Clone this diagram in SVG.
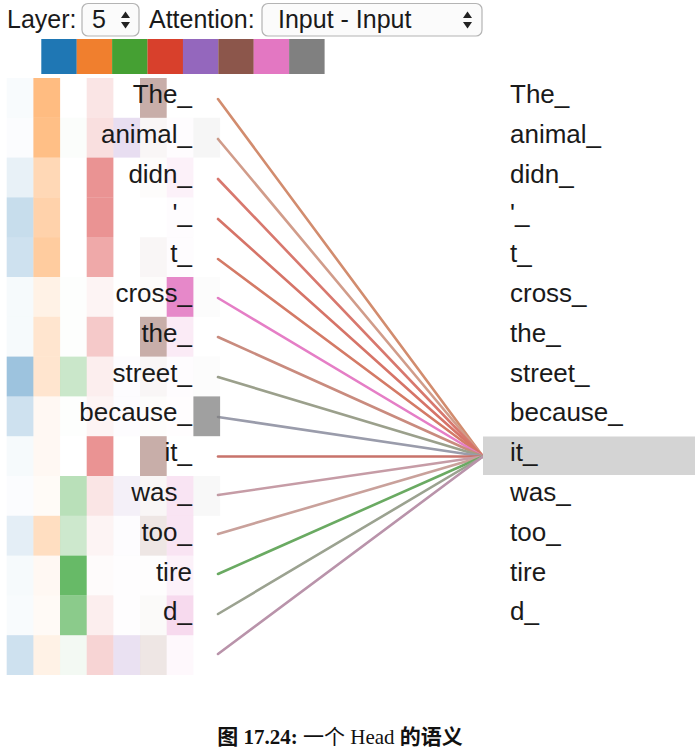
<svg xmlns="http://www.w3.org/2000/svg" width="699" height="750" viewBox="0 0 699 750">
<defs>
<style>
.t{font-family:"Liberation Sans",Arial,sans-serif;font-size:26px;fill:#1a1a1a}
.ui{font-family:"Liberation Sans",Arial,sans-serif;font-size:25px;fill:#1a1a1a}
.sel{fill:#fbfbfb;stroke:#b4b4b4;stroke-width:1.2}
.c0{fill:#1f77b4}.c1{fill:#ff7f0e}.c2{fill:#2ca02c}.c3{fill:#d62728}
.c4{fill:#9467bd}.c5{fill:#8c564b}.c6{fill:#e377c2}.c7{fill:#7f7f7f}
.ln{stroke-width:2.6;fill:none;stroke-linecap:round}
.cap{font-family:"Liberation Serif","Noto Sans CJK SC",serif;font-size:21px;fill:#111}
</style>
</defs>
<rect width="699" height="750" fill="#fff"/>

<g id="controls">
<text class="ui" x="7" y="28">Layer:</text>
<rect class="sel" x="82" y="3.5" width="57" height="32.5" rx="6"/>
<text class="ui" x="92" y="28">5</text>
<polygon points="121,18 125.5,11.5 130,18" fill="#222"/>
<polygon points="121,22 125.5,28.5 130,22" fill="#222"/>
<text class="ui" x="149" y="28">Attention:</text>
<rect class="sel" x="262" y="3.5" width="220" height="32.5" rx="6"/>
<text class="ui" x="278" y="28">Input - Input</text>
<polygon points="463,18 467.5,11.5 472,18" fill="#222"/>
<polygon points="463,22 467.5,28.5 472,22" fill="#222"/>
</g>

<g id="swatches">
<rect x="41.3" y="39" width="35.5" height="35" fill="#1f77b4"/>
<rect x="76.7" y="39" width="35.5" height="35" fill="#f07f2e"/>
<rect x="112.1" y="39" width="35.5" height="35" fill="#45a033"/>
<rect x="147.5" y="39" width="35.5" height="35" fill="#d8402c"/>
<rect x="182.9" y="39" width="35.5" height="35" fill="#9467bd"/>
<rect x="218.3" y="39" width="35.5" height="35" fill="#8c564b"/>
<rect x="253.7" y="39" width="35.5" height="35" fill="#e377c2"/>
<rect x="289.1" y="39" width="35.5" height="35" fill="#808080"/>
</g>

<g id="connectors">
<line class="ln" x1="218" y1="99" x2="483" y2="456.5" stroke="#d28c6e"/>
<line class="ln" x1="218" y1="139" x2="483" y2="456.5" stroke="#d19c8a"/>
<line class="ln" x1="218" y1="179" x2="483" y2="456.5" stroke="#d8786e"/>
<line class="ln" x1="218" y1="219" x2="483" y2="456.5" stroke="#d67468"/>
<line class="ln" x1="218" y1="259" x2="483" y2="456.5" stroke="#d47a66"/>
<line class="ln" x1="218" y1="298" x2="483" y2="456.5" stroke="#e57ec6"/>
<line class="ln" x1="218" y1="337" x2="483" y2="456.5" stroke="#c98b7e"/>
<line class="ln" x1="218" y1="377" x2="483" y2="456.5" stroke="#9ba08c"/>
<line class="ln" x1="218" y1="417" x2="483" y2="456.5" stroke="#9a9cab"/>
<line class="ln" x1="218" y1="456.5" x2="483" y2="456.5" stroke="#c8736b"/>
<line class="ln" x1="218" y1="495" x2="483" y2="456.5" stroke="#c69ca6"/>
<line class="ln" x1="218" y1="534" x2="483" y2="456.5" stroke="#c9a19b"/>
<line class="ln" x1="218" y1="574" x2="483" y2="456.5" stroke="#6aaa62"/>
<line class="ln" x1="218" y1="614" x2="483" y2="456.5" stroke="#9ba290"/>
<line class="ln" x1="218" y1="654" x2="483" y2="456.5" stroke="#b993aa"/>
</g>

<g id="heatmap">
<g id="row0" transform="translate(0,78)">
<rect class="c0" x="6.7" width="26.7" height="39.8" fill-opacity="0.03"/>
<rect class="c1" x="33.4" width="26.7" height="39.8" fill-opacity="0.52"/>
<rect class="c3" x="86.7" width="26.7" height="39.8" fill-opacity="0.12"/>
<rect class="c5" x="140" width="26.7" height="39.8" fill-opacity="0.48"/>
<text class="t" x="192" y="25" text-anchor="end">The_</text>
</g>
<g id="row1" transform="translate(0,117.8)">
<rect class="c0" x="6.7" width="26.7" height="39.8" fill-opacity="0.02"/>
<rect class="c1" x="33.4" width="26.7" height="39.8" fill-opacity="0.5"/>
<rect class="c2" x="60" width="26.7" height="39.8" fill-opacity="0.02"/>
<rect class="c3" x="86.7" width="26.7" height="39.8" fill-opacity="0.15"/>
<rect class="c4" x="113.4" width="26.7" height="39.8" fill-opacity="0.22"/>
<rect class="c5" x="140" width="26.7" height="39.8" fill-opacity="0.05"/>
<rect class="c6" x="166.7" width="26.7" height="39.8" fill-opacity="0.02"/>
<rect class="c7" x="193.4" width="26.7" height="39.8" fill-opacity="0.07"/>
<text class="t" x="192" y="25" text-anchor="end">animal_</text>
</g>
<g id="row2" transform="translate(0,157.6)">
<rect class="c0" x="6.7" width="26.7" height="39.8" fill-opacity="0.1"/>
<rect class="c1" x="33.4" width="26.7" height="39.8" fill-opacity="0.3"/>
<rect class="c3" x="86.7" width="26.7" height="39.8" fill-opacity="0.5"/>
<rect class="c5" x="140" width="26.7" height="39.8" fill-opacity="0.02"/>
<rect class="c6" x="166.7" width="26.7" height="39.8" fill-opacity="0.1"/>
<text class="t" x="192" y="25" text-anchor="end">didn_</text>
</g>
<g id="row3" transform="translate(0,197.4)">
<rect class="c0" x="6.7" width="26.7" height="39.8" fill-opacity="0.25"/>
<rect class="c1" x="33.4" width="26.7" height="39.8" fill-opacity="0.35"/>
<rect class="c3" x="86.7" width="26.7" height="39.8" fill-opacity="0.5"/>
<rect class="c6" x="166.7" width="26.7" height="39.8" fill-opacity="0.02"/>
<text class="t" x="192" y="25" text-anchor="end">'_</text>
</g>
<g id="row4" transform="translate(0,237.2)">
<rect class="c0" x="6.7" width="26.7" height="39.8" fill-opacity="0.22"/>
<rect class="c1" x="33.4" width="26.7" height="39.8" fill-opacity="0.4"/>
<rect class="c3" x="86.7" width="26.7" height="39.8" fill-opacity="0.4"/>
<rect class="c5" x="140" width="26.7" height="39.8" fill-opacity="0.05"/>
<rect class="c6" x="166.7" width="26.7" height="39.8" fill-opacity="0.02"/>
<text class="t" x="192" y="25" text-anchor="end">t_</text>
</g>
<g id="row5" transform="translate(0,277)">
<rect class="c0" x="6.7" width="26.7" height="39.8" fill-opacity="0.04"/>
<rect class="c1" x="33.4" width="26.7" height="39.8" fill-opacity="0.1"/>
<rect class="c2" x="60" width="26.7" height="39.8" fill-opacity="0.01"/>
<rect class="c3" x="86.7" width="26.7" height="39.8" fill-opacity="0.05"/>
<rect class="c5" x="140" width="26.7" height="39.8" fill-opacity="0.02"/>
<rect class="c6" x="166.7" width="26.7" height="39.8" fill-opacity="0.88"/>
<rect class="c7" x="193.4" width="26.7" height="39.8" fill-opacity="0.02"/>
<text class="t" x="192" y="25" text-anchor="end">cross_</text>
</g>
<g id="row6" transform="translate(0,316.8)">
<rect class="c0" x="6.7" width="26.7" height="39.8" fill-opacity="0.04"/>
<rect class="c1" x="33.4" width="26.7" height="39.8" fill-opacity="0.2"/>
<rect class="c2" x="60" width="26.7" height="39.8" fill-opacity="0.01"/>
<rect class="c3" x="86.7" width="26.7" height="39.8" fill-opacity="0.25"/>
<rect class="c5" x="140" width="26.7" height="39.8" fill-opacity="0.48"/>
<rect class="c6" x="166.7" width="26.7" height="39.8" fill-opacity="0.15"/>
<text class="t" x="192" y="25" text-anchor="end">the_</text>
</g>
<g id="row7" transform="translate(0,356.6)">
<rect class="c0" x="6.7" width="26.7" height="39.8" fill-opacity="0.44"/>
<rect class="c1" x="33.4" width="26.7" height="39.8" fill-opacity="0.2"/>
<rect class="c2" x="60" width="26.7" height="39.8" fill-opacity="0.25"/>
<rect class="c3" x="86.7" width="26.7" height="39.8" fill-opacity="0.08"/>
<rect class="c4" x="113.4" width="26.7" height="39.8" fill-opacity="0.02"/>
<rect class="c5" x="140" width="26.7" height="39.8" fill-opacity="0.05"/>
<rect class="c6" x="166.7" width="26.7" height="39.8" fill-opacity="0.02"/>
<rect class="c7" x="193.4" width="26.7" height="39.8" fill-opacity="0.02"/>
<text class="t" x="192" y="25" text-anchor="end">street_</text>
</g>
<g id="row8" transform="translate(0,396.4)">
<rect class="c0" x="6.7" width="26.7" height="39.8" fill-opacity="0.22"/>
<rect class="c1" x="33.4" width="26.7" height="39.8" fill-opacity="0.05"/>
<rect class="c2" x="60" width="26.7" height="39.8" fill-opacity="0.01"/>
<rect class="c3" x="86.7" width="26.7" height="39.8" fill-opacity="0.05"/>
<rect class="c4" x="113.4" width="26.7" height="39.8" fill-opacity="0.02"/>
<rect class="c5" x="140" width="26.7" height="39.8" fill-opacity="0.02"/>
<rect class="c6" x="166.7" width="26.7" height="39.8" fill-opacity="0.01"/>
<rect class="c7" x="193.4" width="26.7" height="39.8" fill-opacity="0.74"/>
<text class="t" x="192" y="25" text-anchor="end">because_</text>
</g>
<g id="row9" transform="translate(0,436.2)">
<rect class="c0" x="6.7" width="26.7" height="39.8" fill-opacity="0.04"/>
<rect class="c1" x="33.4" width="26.7" height="39.8" fill-opacity="0.05"/>
<rect class="c3" x="86.7" width="26.7" height="39.8" fill-opacity="0.5"/>
<rect class="c5" x="140" width="26.7" height="39.8" fill-opacity="0.48"/>
<text class="t" x="192" y="25" text-anchor="end">it_</text>
</g>
<g id="row10" transform="translate(0,476)">
<rect class="c0" x="6.7" width="26.7" height="39.8" fill-opacity="0.02"/>
<rect class="c1" x="33.4" width="26.7" height="39.8" fill-opacity="0.03"/>
<rect class="c2" x="60" width="26.7" height="39.8" fill-opacity="0.33"/>
<rect class="c3" x="86.7" width="26.7" height="39.8" fill-opacity="0.12"/>
<rect class="c4" x="113.4" width="26.7" height="39.8" fill-opacity="0.1"/>
<rect class="c5" x="140" width="26.7" height="39.8" fill-opacity="0.05"/>
<rect class="c6" x="166.7" width="26.7" height="39.8" fill-opacity="0.2"/>
<rect class="c7" x="193.4" width="26.7" height="39.8" fill-opacity="0.05"/>
<text class="t" x="192" y="25" text-anchor="end">was_</text>
</g>
<g id="row11" transform="translate(0,515.8)">
<rect class="c0" x="6.7" width="26.7" height="39.8" fill-opacity="0.12"/>
<rect class="c1" x="33.4" width="26.7" height="39.8" fill-opacity="0.26"/>
<rect class="c2" x="60" width="26.7" height="39.8" fill-opacity="0.24"/>
<rect class="c3" x="86.7" width="26.7" height="39.8" fill-opacity="0.05"/>
<rect class="c4" x="113.4" width="26.7" height="39.8" fill-opacity="0.02"/>
<rect class="c5" x="140" width="26.7" height="39.8" fill-opacity="0.15"/>
<rect class="c6" x="166.7" width="26.7" height="39.8" fill-opacity="0.2"/>
<text class="t" x="192" y="25" text-anchor="end">too_</text>
</g>
<g id="row12" transform="translate(0,555.6)">
<rect class="c0" x="6.7" width="26.7" height="39.8" fill-opacity="0.04"/>
<rect class="c1" x="33.4" width="26.7" height="39.8" fill-opacity="0.05"/>
<rect class="c2" x="60" width="26.7" height="39.8" fill-opacity="0.72"/>
<rect class="c3" x="86.7" width="26.7" height="39.8" fill-opacity="0.02"/>
<rect class="c4" x="113.4" width="26.7" height="39.8" fill-opacity="0.01"/>
<rect class="c5" x="140" width="26.7" height="39.8" fill-opacity="0.01"/>
<rect class="c6" x="166.7" width="26.7" height="39.8" fill-opacity="0.1"/>
<text class="t" x="192" y="25" text-anchor="end">tire</text>
</g>
<g id="row13" transform="translate(0,595.4)">
<rect class="c0" x="6.7" width="26.7" height="39.8" fill-opacity="0.03"/>
<rect class="c1" x="33.4" width="26.7" height="39.8" fill-opacity="0.04"/>
<rect class="c2" x="60" width="26.7" height="39.8" fill-opacity="0.55"/>
<rect class="c3" x="86.7" width="26.7" height="39.8" fill-opacity="0.08"/>
<rect class="c4" x="113.4" width="26.7" height="39.8" fill-opacity="0.01"/>
<rect class="c5" x="140" width="26.7" height="39.8" fill-opacity="0.03"/>
<rect class="c6" x="166.7" width="26.7" height="39.8" fill-opacity="0.27"/>
<text class="t" x="192" y="25" text-anchor="end">d_</text>
</g>
<g id="row14" transform="translate(0,635.2)">
<rect class="c0" x="6.7" width="26.7" height="39.8" fill-opacity="0.22"/>
<rect class="c1" x="33.4" width="26.7" height="39.8" fill-opacity="0.1"/>
<rect class="c2" x="60" width="26.7" height="39.8" fill-opacity="0.06"/>
<rect class="c3" x="86.7" width="26.7" height="39.8" fill-opacity="0.2"/>
<rect class="c4" x="113.4" width="26.7" height="39.8" fill-opacity="0.2"/>
<rect class="c5" x="140" width="26.7" height="39.8" fill-opacity="0.15"/>
<rect class="c6" x="166.7" width="26.7" height="39.8" fill-opacity="0.05"/>
</g>
</g>

<g id="targets">
<rect id="highlight" x="483" y="436.5" width="212" height="38.5" fill="#d4d4d4"/>
<text class="t" x="510" y="103">The_</text>
<text class="t" x="510" y="142.8">animal_</text>
<text class="t" x="510" y="182.6">didn_</text>
<text class="t" x="510" y="222.4">'_</text>
<text class="t" x="510" y="262.2">t_</text>
<text class="t" x="510" y="302">cross_</text>
<text class="t" x="510" y="341.8">the_</text>
<text class="t" x="510" y="381.6">street_</text>
<text class="t" x="510" y="421.4">because_</text>
<text class="t" x="510" y="461.2">it_</text>
<text class="t" x="510" y="501">was_</text>
<text class="t" x="510" y="540.8">too_</text>
<text class="t" x="510" y="580.6">tire</text>
<text class="t" x="510" y="620.4">d_</text>
</g>

<g id="caption">
<text class="cap" x="340" y="744" text-anchor="middle"><tspan font-weight="bold">图 17.24:</tspan> 一个 Head <tspan font-weight="bold">的语义</tspan></text>
</g>
</svg>
